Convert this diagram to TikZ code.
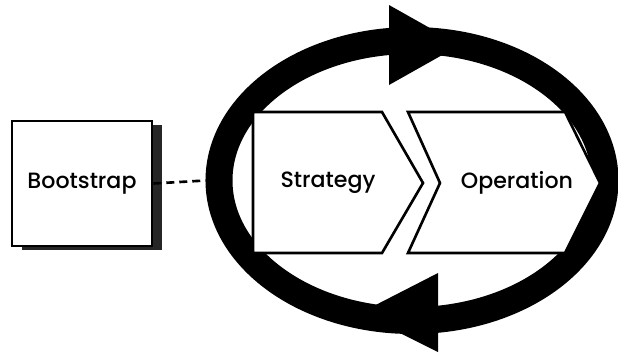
\documentclass[tikz,border=0pt]{standalone}
\usepackage{fontspec}
\setmainfont{Poppins}[UprightFont=* Medium]
\usetikzlibrary{shapes.geometric,shadows}

\begin{document}
\begin{tikzpicture}[line width=1.5pt, font=\fontsize{12.6}{15}\selectfont]
  % Parameters
  \def\ytop{4.88}  % top edge of the stages
  \def\ybot{2.06}  % bottom edge of the stages
  \def\ymid{3.46}  % chevron tips
  \useasboundingbox (0,0) rectangle (12.36,7.12);
  % Ring around the two stages
  \node[draw, ellipse, line width=0.54cm, inner sep=0pt,
        minimum width=7.72cm, minimum height=5.6cm] (cycle) at (8.24,3.51) {};
  % Arrow heads on the ring
  \fill (7.78,7.02) -- (7.78,5.42) -- (9.2,6.22) -- cycle;
  \fill (8.76,1.66) -- (8.76,0.08) -- (7.2,0.86) -- cycle;
  % Strategy stage
  \draw[fill=white] (5.06,\ytop) -- (7.64,\ytop) -- (8.46,\ymid)
    -- (7.64,\ybot) -- (5.06,\ybot) -- cycle;
  \node (strategy) at (6.56,\ymid) {Strategy};
  % Operation stage
  \draw[fill=white] (8.16,\ytop) -- (11.3,\ytop) -- (12.0,\ymid)
    -- (11.3,\ybot) -- (8.16,\ybot) -- (8.8,\ymid) -- cycle;
  \node (operation) at (10.34,\ymid) {Operation};
  % Bootstrap box with its shadow
  \node[draw, fill=white, minimum width=2.8cm, minimum height=2.5cm,
        drop shadow={shadow xshift=0.2cm, shadow yshift=-0.08cm,
                     fill=black!85, opacity=1}] (bootstrap) at (1.64,3.45) {Bootstrap};
  \draw[dash pattern=on 0.16cm off 0.1cm] (bootstrap.east) -- (cycle.west);
\end{tikzpicture}
\end{document}
